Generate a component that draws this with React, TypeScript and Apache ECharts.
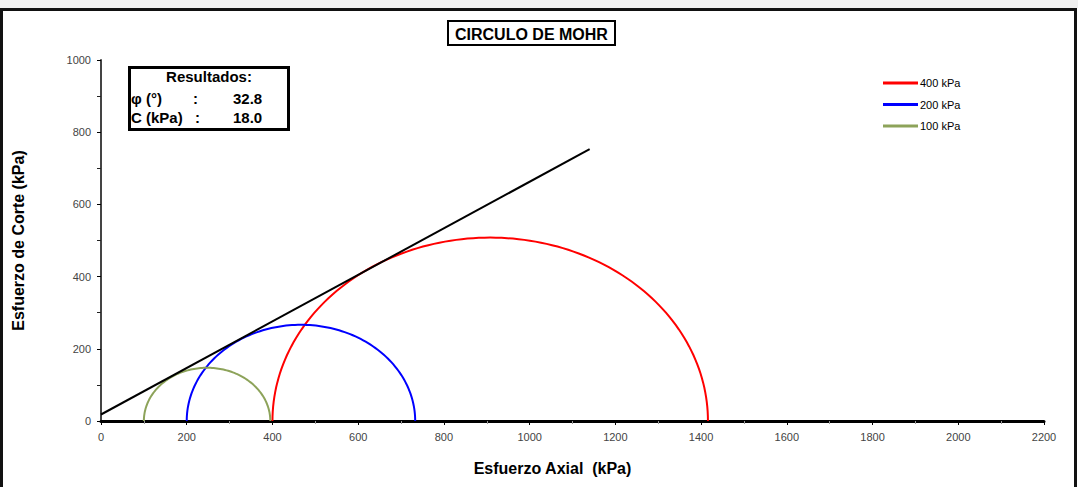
import React, { useEffect, useRef } from "react";
import * as echarts from "echarts";

// ---- data ----
const circleNames = ["400 kPa", "200 kPa", "100 kPa"];
const sigma3 = [400, 200, 100]; // minor principal stress (kPa)
const sigma1 = [1416, 733, 395]; // major principal stress (kPa)
const circleColors = ["#ff0000", "#0000ff", "#8da35a"];
const envelope = [
  [0, 18],
  [1140, 753],
];
const xTicks = { min: 0, max: 2200, interval: 200 };
const yTicks = { min: 0, max: 1000, interval: 200 };
const resultPhi = "32.8";
const resultC = "18.0";

const FONT = "'Liberation Sans', Arial, sans-serif";

export default function App() {
  const ref = useRef<HTMLDivElement>(null);
  useEffect(() => {
    if (!ref.current) return;
    const chart = echarts.init(ref.current, null, { renderer: "svg" });

    const circleSeries = circleNames.map((name, i) => ({
      name,
      type: "custom",
      clip: false,
      itemStyle: { color: circleColors[i] },
      data: [[sigma3[i], sigma1[i]]],
      renderItem: (params: any, api: any) => {
        const s3 = api.value(0);
        const s1 = api.value(1);
        const c = (s1 + s3) / 2;
        const r = (s1 - s3) / 2;
        const pts: number[][] = [];
        const n = 120;
        for (let k = 0; k <= n; k++) {
          const t = (Math.PI * k) / n;
          pts.push(api.coord([c + r * Math.cos(t), r * Math.sin(t)]));
        }
        return {
          type: "polyline",
          shape: { points: pts },
          style: { stroke: circleColors[i], lineWidth: 2, fill: "none" },
        };
      },
    }));

    const txt = (x: number, y: number, text: string, align = "left") => ({
      type: "text",
      x,
      y,
      style: { text, font: `bold 15px ${FONT}`, fill: "#000", align, verticalAlign: "middle" },
    });

    chart.setOption({
      animation: false,
      backgroundColor: "#ffffff",
      textStyle: { fontFamily: FONT },
      title: {
        text: "CIRCULO DE MOHR",
        left: 448,
        top: 21,
        padding: [5, 7, 3, 7],
        borderColor: "#000",
        borderWidth: 2,
        textStyle: { fontSize: 16, fontWeight: "bold", color: "#000", fontFamily: FONT },
      },
      legend: {
        data: circleNames,
        orient: "vertical",
        left: 883,
        top: 77,
        padding: 0,
        icon: "rect",
        itemWidth: 35,
        itemHeight: 3,
        itemGap: 9.5,
        textStyle: { fontSize: 11, color: "#000", lineHeight: 12, fontFamily: FONT, padding: [0, 0, 0, -3] },
      },
      grid: { left: 101, right: 34, top: 60, bottom: 66 },
      xAxis: {
        type: "value",
        min: xTicks.min,
        max: xTicks.max,
        interval: xTicks.interval,
        name: "Esfuerzo Axial  (kPa)",
        nameLocation: "middle",
        nameGap: 39,
        nameTextStyle: {
          fontSize: 16,
          fontWeight: "bold",
          color: "#000",
          fontFamily: FONT,
          padding: [0, 40, 0, 0],
        },
        axisLine: { lineStyle: { color: "#000", width: 3 } },
        axisTick: { length: 4, lineStyle: { color: "#000", width: 1 } },
        minorTick: { show: true, splitNumber: 2, length: 3, lineStyle: { color: "#999" } },
        axisLabel: { fontSize: 11, color: "#444", margin: 10, formatter: (v: number) => String(v) },
        splitLine: { show: false },
      },
      yAxis: {
        type: "value",
        min: yTicks.min,
        max: yTicks.max,
        interval: yTicks.interval,
        name: "Esfuerzo de Corte (kPa)",
        nameLocation: "middle",
        nameRotate: 90,
        nameGap: 75,
        nameTextStyle: { fontSize: 16, fontWeight: "bold", color: "#000", fontFamily: FONT },
        axisLine: { show: true, lineStyle: { color: "#444", width: 2 } },
        axisTick: { show: true, length: 4, lineStyle: { color: "#000" } },
        minorTick: { show: true, splitNumber: 2, length: 4, lineStyle: { color: "#222" } },
        axisLabel: { fontSize: 11, color: "#444", margin: 10, formatter: (v: number) => String(v) },
        splitLine: { show: false },
      },
      graphic: [
        {
          type: "rect",
          z: -1,
          silent: true,
          shape: { x: 0, y: 0, width: 1078, height: 8 },
          style: { fill: "#f0f0f0" },
        },
        {
          type: "rect",
          silent: true,
          shape: { x: 1.5, y: 9.5, width: 1074, height: 490 },
          style: { fill: "none", stroke: "#111", lineWidth: 3 },
        },
        {
          type: "group",
          left: 128,
          top: 66,
          children: [
            {
              type: "rect",
              shape: { x: 1.5, y: 1.5, width: 159, height: 62 },
              style: { fill: "#fff", stroke: "#000", lineWidth: 3 },
            },
            txt(81, 10, "Resultados:", "center"),
            txt(3, 32, "φ (°)"),
            txt(65, 32, ":"),
            txt(105, 32, resultPhi),
            txt(3, 51, "C (kPa)"),
            txt(67, 51, ":"),
            txt(105, 51, resultC),
          ],
        },
      ],
      series: [
        ...circleSeries,
        {
          type: "line",
          name: "envolvente",
          data: envelope,
          showSymbol: false,
          symbol: "none",
          lineStyle: { color: "#000", width: 2 },
          itemStyle: { color: "#000" },
          z: 3,
        },
      ],
    });
    return () => chart.dispose();
  }, []);
  return (
    <div
      ref={ref}
      style={{ position: "fixed", left: 0, top: 0, width: 1078, height: 487 }}
    />
  );
}
